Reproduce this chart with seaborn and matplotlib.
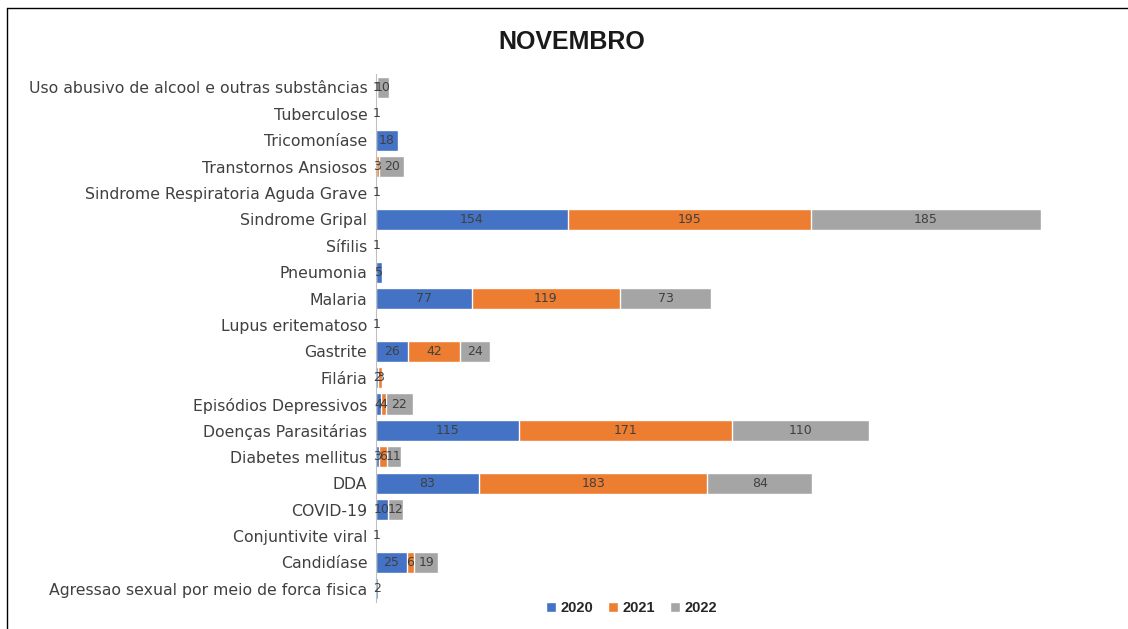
import numpy as np
import pandas as pd
import seaborn as sns
import matplotlib
matplotlib.use("Agg")
import matplotlib.pyplot as plt
from matplotlib.patches import Patch
from matplotlib.lines import Line2D

# Data (top-to-bottom as shown in the chart)
categories = [
    "Uso abusivo de alcool e outras substâncias",
    "Tuberculose",
    "Tricomoníase",
    "Transtornos Ansiosos",
    "Sindrome Respiratoria Aguda Grave",
    "Sindrome Gripal",
    "Sífilis",
    "Pneumonia",
    "Malaria",
    "Lupus eritematoso",
    "Gastrite",
    "Filária",
    "Episódios Depressivos",
    "Doenças Parasitárias",
    "Diabetes mellitus",
    "DDA",
    "COVID-19",
    "Conjuntivite viral",
    "Candidíase",
    "Agressao sexual por meio de forca fisica",
]
v2020 = [1, 1, 18, 0, 1, 154, 1, 5, 77, 1, 26, 2, 4, 115, 3, 83, 10, 1, 25, 2]
v2021 = [0, 0, 0, 3, 0, 195, 0, 0, 119, 0, 42, 3, 4, 171, 6, 183, 0, 0, 6, 0]
v2022 = [10, 0, 0, 20, 0, 185, 0, 0, 73, 0, 24, 0, 22, 110, 11, 84, 12, 0, 19, 0]
years = ["2020", "2021", "2022"]
colors = ["#4472C4", "#ED7D31", "#A5A5A5"]

sns.set_theme(style="white")
plt.rcParams['font.family'] = ['Liberation Sans', 'DejaVu Sans']

fig = plt.figure(figsize=(11.28, 6.29), dpi=100)
ax = fig.add_axes([0.333, 0.043, 0.62, 0.839])

df = pd.DataFrame({"cat": categories, "a": v2020, "b": v2021, "c": v2022})
df["ab"] = df["a"] + df["b"]
df["abc"] = df["ab"] + df["c"]

bw = 0.8
sns.barplot(data=df, y="cat", x="abc", color=colors[2], width=bw, saturation=1,
            orient="y", ax=ax, errorbar=None)
sns.barplot(data=df, y="cat", x="ab", color=colors[1], width=bw, saturation=1,
            orient="y", ax=ax, errorbar=None)
sns.barplot(data=df, y="cat", x="a", color=colors[0], width=bw, saturation=1,
            orient="y", ax=ax, errorbar=None)

# segment labels
for i, (a, b, c) in enumerate(zip(v2020, v2021, v2022)):
    left = 0
    for v in (a, b, c):
        if v > 0:
            ax.text(left + v / 2, i, str(v), ha="center", va="center",
                    fontsize=9, color="#404040", family=["DejaVu Sans"])
        left += v

ax.set_xlim(0, 561)
ax.set_ylim(len(categories) - 0.5, -0.5)
ax.set_xlabel("")
ax.set_ylabel("")
ax.set_xticks([])
for s in ["top", "right", "bottom"]:
    ax.spines[s].set_visible(False)
ax.spines["left"].set_color("#BFBFBF")
ax.spines["left"].set_linewidth(0.8)
ax.tick_params(axis="y", length=0, labelsize=11.3, labelcolor="#404040", pad=6)
for lab in ax.get_yticklabels():
    lab.set_family(["DejaVu Sans"])

fig.text(572 / 1128, 1 - 42 / 629, "NOVEMBRO", ha="center", va="center",
         fontsize=18, fontweight="bold", color="#1a1a1a")

handles = [Patch(facecolor=c, label=y) for c, y in zip(colors, years)]
fig.legend(handles=handles, loc="center", bbox_to_anchor=(0.56, 1 - 608 / 629),
           ncol=3, frameon=False, handlelength=0.7, handleheight=0.7,
           handletextpad=0.3, columnspacing=1.0,
           prop={"weight": "bold", "size": 10.5})

# outer frame
x0 = 7 / 1128
y1 = 1 - 8 / 629
fig.add_artist(Line2D([x0, x0], [0, y1], transform=fig.transFigure, color="black", lw=1))
fig.add_artist(Line2D([x0, 1], [y1, y1], transform=fig.transFigure, color="black", lw=1))

fig.savefig("out.png", dpi=100)
